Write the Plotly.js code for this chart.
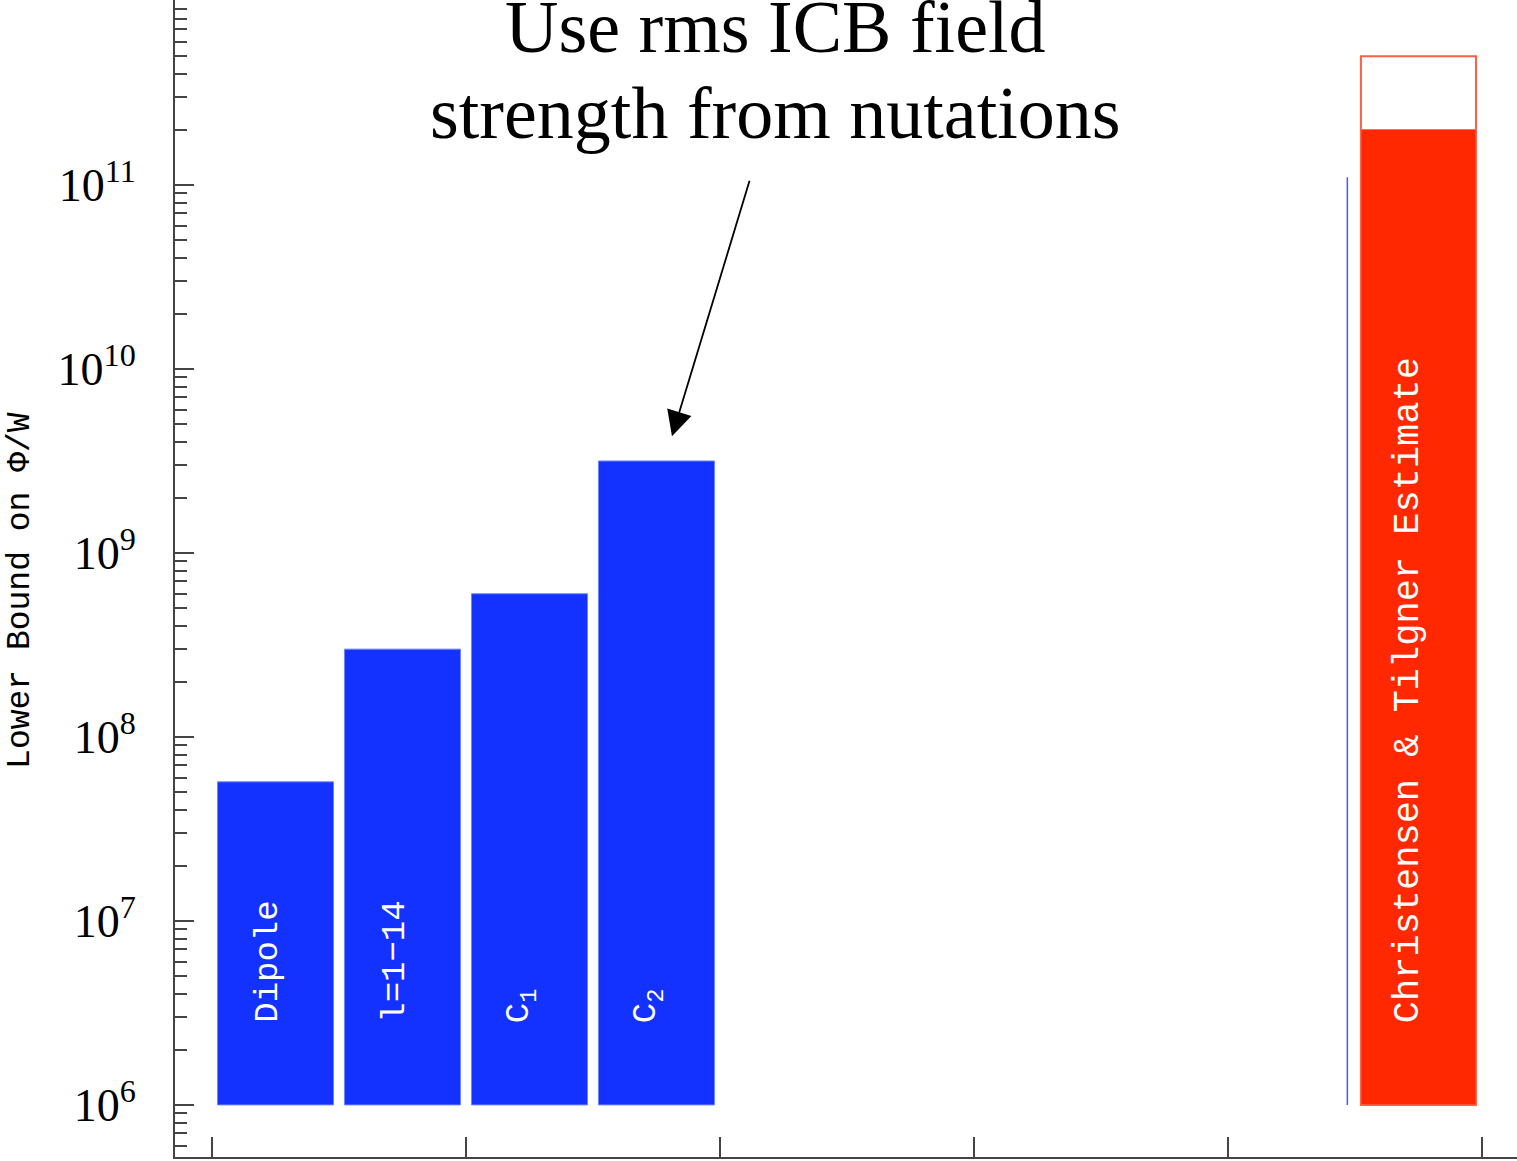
<!DOCTYPE html>
<html>
<head>
<meta charset="utf-8">
<script src="https://cdn.plot.ly/plotly-3.0.1.min.js"></script>
<style>html,body{margin:0;padding:0;background:#fff;}#chart{width:1517px;height:1161px;}</style>
</head>
<body>
<div id="chart"></div>
<script>
// ---- data ----
const blueLabels = ["Dipole", "l=1−14", "C<sub>1</sub>", "C<sub>2</sub>"];
const blueX = [0.25, 0.75, 1.25, 1.75];
const blueValues = [5.7e7, 3.0e8, 6.0e8, 3.16e9];
const redLabel = "Christensen &amp; Tilgner Estimate";
const redX = [4.75];
const redLow = [2.0e11];
const redHigh = [5.0e11];
const lineX = [4.47, 4.47];
const lineY = [1e6, 1.1e11];
const baseValue = 1e6;
const yTitle = "Lower Bound on Φ/W";
const noteLines = ["Use rms ICB field", "strength from nutations"];
const yTickVals = [1e6, 1e7, 1e8, 1e9, 1e10, 1e11];
const yTickText = ["10<sup>6</sup>", "10<sup>7</sup>", "10<sup>8</sup>", "10<sup>9</sup>", "10<sup>10</sup>", "10<sup>11</sup>"];
const xTickVals = [0, 1, 2, 3, 4, 5];

const BLUE = "rgb(20,50,255)";
const RED = "rgb(255,40,0)";

const minorVals = [];
for (let e = 5; e <= 12; e++) {
  for (let m = 2; m <= 9; m++) minorVals.push(m * Math.pow(10, e));
}

const barW = 0.457;
const traces = [
  {
    type: "bar", x: blueX, y: blueValues.map(v => v - baseValue), base: blueValues.map(() => baseValue),
    width: barW, marker: {color: BLUE, line: {color: "rgb(110,135,255)", width: 1}},
    hoverinfo: "skip", showlegend: false
  },
  {
    type: "bar", x: redX, y: redHigh.map(v => v - baseValue), base: [baseValue],
    width: 0.453, marker: {color: "rgba(255,255,255,1)", line: {color: "rgb(255,95,70)", width: 2}},
    hoverinfo: "skip", showlegend: false
  },
  {
    type: "bar", x: redX, y: redLow.map(v => v - baseValue), base: [baseValue],
    width: 0.453, marker: {color: RED, line: {color: "rgb(255,110,90)", width: 1}},
    hoverinfo: "skip", showlegend: false
  },
  {
    type: "scatter", mode: "lines", x: lineX, y: lineY,
    line: {color: "rgb(70,90,255)", width: 1.5}, hoverinfo: "skip", showlegend: false
  }
];

const labelY = Math.pow(10, 6.435);
const annotations = blueLabels.map((t, i) => ({
  x: blueX[i] - 0.03, y: Math.log10(labelY), xref: "x", yref: "y",
  text: t, showarrow: false, textangle: -90, xanchor: "center", yanchor: "bottom",
  font: {family: "Liberation Mono, DejaVu Sans Mono, monospace", size: 34, color: "white"}
}));
annotations.push({
  x: redX[0] - 0.04, y: Math.log10(labelY), xref: "x", yref: "y",
  text: redLabel, showarrow: false, textangle: -90, xanchor: "center", yanchor: "bottom",
  font: {family: "Liberation Mono, DejaVu Sans Mono, monospace", size: 37, color: "white"}
});
// y-axis title (placed as rotated text left of the tick labels)
annotations.push({
  x: -0.1148, y: 0.4901, xref: "paper", yref: "paper",
  text: yTitle, showarrow: false, textangle: -90, xanchor: "center", yanchor: "middle",
  font: {family: "Liberation Mono, DejaVu Sans Mono, monospace", size: 33, color: "black"}
});
// note text: two lines, centred above the arrow
const noteCentersPx = [27, 113];
noteLines.forEach((t, i) => {
  annotations.push({
    x: 2.22, y: 1 - noteCentersPx[i] / 1157, xref: "x", yref: "paper",
    text: t, showarrow: false, xanchor: "center", yanchor: "middle",
    font: {family: "Liberation Serif, Times New Roman, serif", size: 74, color: "black"}
  });
});
annotations.push({
  x: 1.811, y: Math.log10(4.3e9), xref: "x", yref: "y",
  ax: 78, ay: -257, text: "", showarrow: true,
  arrowhead: 2, arrowsize: 2.8, arrowwidth: 1.8, arrowcolor: "black"
});

const layout = {
  width: 1517, height: 1161,
  margin: {l: 175, r: 0, t: 0, b: 4},
  paper_bgcolor: "white", plot_bgcolor: "white",
  barmode: "overlay",
  showlegend: false,
  xaxis: {
    range: [-0.1457, 5.138], showgrid: false, zeroline: false,
    showline: true, linecolor: "#444", linewidth: 2,
    tickmode: "array", tickvals: xTickVals, ticks: "inside", ticklen: 20, tickwidth: 2, tickcolor: "#444",
    showticklabels: false
  },
  yaxis: {
    type: "log", range: [5.717, 12.005], showgrid: false, zeroline: false,
    showline: true, linecolor: "#444", linewidth: 2,
    tickmode: "array", tickvals: yTickVals, ticktext: yTickText,
    ticks: "inside", ticklen: 19, tickwidth: 2, tickcolor: "#444",
    ticklabelstandoff: 28,
    tickfont: {family: "Liberation Serif, Times New Roman, serif", size: 46, color: "black"},
    minor: {tickmode: "array", tickvals: minorVals, ticks: "inside", ticklen: 12, tickwidth: 2, tickcolor: "#444", showgrid: false}
  },
  annotations: annotations
};

Plotly.newPlot("chart", traces, layout, {staticPlot: true, displayModeBar: false});
</script>
</body>
</html>
